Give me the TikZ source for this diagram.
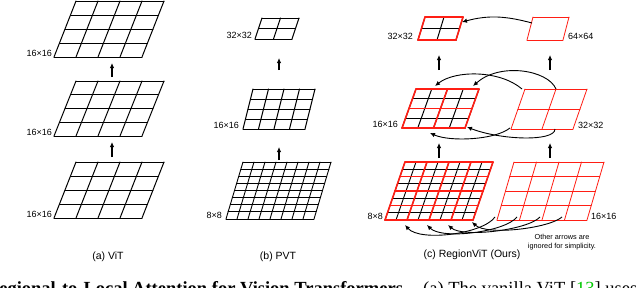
\documentclass[tikz,border=0pt]{standalone}
\usepackage{fontspec}
\setmainfont{Liberation Sans}
\newfontfamily\serifcap{Liberation Serif}
\usetikzlibrary{arrows.meta}
\definecolor{gred}{RGB}{255,30,20}
\definecolor{cgreen}{RGB}{0,200,0}
% #1 x0, #2 y0 (bottom, px down), #3 width, #4 height, #5 skew, #6 divisions, #7 style
\newcommand{\pgrid}[7]{%
  \foreach \i in {0,...,#6}{%
    \draw[#7] ({#1+#5*\i/#6},{-#2+#4*\i/#6}) -- ++(#3,0);
    \draw[#7] ({#1+#3*\i/#6},{-#2}) -- ++(#5,#4);
  }%
}
\begin{document}
\begin{tikzpicture}[x=1pt,y=1pt,
  blk/.style={line width=1pt, black, line cap=round},
  blkthin/.style={line width=0.9pt, black, line cap=round},
  redthick/.style={line width=1.6pt, gred, line cap=round},
  redthin/.style={line width=0.8pt, gred, line cap=round},
  uparrow/.style={-{Latex[length=5pt,width=4.5pt]}, line width=1.1pt},
  curv/.style={-{Latex[length=5pt,width=4.5pt]}, line width=0.9pt},
  lab/.style={font=\fontsize{9}{10}\selectfont, inner sep=0pt},
  subcap/.style={font=\fontsize{10.5}{12}\selectfont, inner sep=0pt},
  notetext/.style={font=\fontsize{7.3}{9.5}\selectfont, inner sep=0pt, align=center},
  bigcap/.style={font=\serifcap\fontsize{18.5}{20}\selectfont, inner sep=0pt},
]
\useasboundingbox (0,0) rectangle (640,-287);
\clip (0,0) rectangle (640,-287);
\fill[white] (0,0) rectangle (640,-287);

% ---------- (a) ViT ----------
\pgrid{54}{57}{88}{56}{22}{4}{blk}
\pgrid{54}{136}{88}{55}{22}{4}{blk}
\pgrid{54}{218}{88}{56}{22}{4}{blk}
\node[lab, anchor=east] (la1) at (52,-53) {16×16};
\node[lab, anchor=east] (la2) at (52,-132) {16×16};
\node[lab, anchor=east] (la3) at (52,-214) {16×16};
\coordinate (a1s) at (112,-77); \coordinate (a1e) at (112,-63);
\coordinate (a2s) at (112,-157); \coordinate (a2e) at (112,-142);
\draw[uparrow] (a1s) -- (a1e);
\draw[uparrow] (a2s) -- (a2e);
\node[subcap] (capa) at (108,-257) {(a) ViT};

% ---------- (b) PVT ----------
\pgrid{255}{39}{37}{21}{7}{2}{blk}
\pgrid{243}{129}{62}{40}{10}{4}{blk}
\pgrid{226}{219}{88}{57}{17}{8}{blkthin}
\node[lab, anchor=east] (lb1) at (252,-35) {32×32};
\node[lab, anchor=east] (lb2) at (239,-125) {16×16};
\node[lab, anchor=east] (lb3) at (222,-215) {8×8};
\coordinate (b1s) at (279,-70); \coordinate (b1e) at (279,-58);
\coordinate (b2s) at (279,-160); \coordinate (b2e) at (279,-147);
\draw[uparrow] (b1s) -- (b1e);
\draw[uparrow] (b2s) -- (b2e);
\node[subcap] (capb) at (278,-257) {(b) PVT};

% ---------- (c) RegionViT ----------
% top row
\pgrid{418}{40}{38}{23}{7}{2}{blk}
\pgrid{418}{40}{38}{23}{7}{1}{redthick}
\pgrid{527}{40}{36}{23}{6}{1}{redthin}
\node[lab, anchor=east] (lc1) at (413,-36) {32×32};
\node[lab, anchor=west] (lc2) at (568,-36) {64×64};
\coordinate (t0s) at (532,-23); \coordinate (t0e) at (462,-22);
\draw[curv] (t0s) to[out=165,in=15] (t0e);
% middle row
\pgrid{402}{128}{63}{39}{14}{4}{blk}
\pgrid{402}{128}{63}{39}{14}{2}{redthick}
\pgrid{511}{129}{62}{40}{14}{2}{redthin}
\node[lab, anchor=east] (lc3) at (398,-124) {16×16};
\node[lab, anchor=west] (lc4) at (578,-125) {32×32};
\coordinate (m1s) at (439,-70); \coordinate (m1e) at (439,-55);
\coordinate (m2s) at (550,-70); \coordinate (m2e) at (550,-55);
\draw[uparrow] (m1s) -- (m1e);
\draw[uparrow] (m2s) -- (m2e);
\coordinate (c1s) at (522,-89); \coordinate (c1e) at (435,-86);
\coordinate (c2s) at (556,-89); \coordinate (c2e) at (473,-86);
\draw[curv] (c1s) .. controls (500,-70) and (455,-70) .. (c1e);
\draw[curv] (c2s) .. controls (548,-70) and (500,-62) .. (c2e);
\coordinate (c3s) at (510,-128); \coordinate (c3e) at (430,-133);
\coordinate (c4s) at (555,-129); \coordinate (c4e) at (467,-127);
\draw[curv] (c3s) .. controls (495,-140) and (450,-142) .. (c3e);
\draw[curv] (c4s) .. controls (555,-142) and (500,-140) .. (c4e);
% bottom row
\pgrid{385}{220}{88}{58}{20}{8}{blkthin}
\pgrid{385}{220}{88}{58}{20}{4}{redthick}
\pgrid{497}{220}{90}{58}{17}{4}{redthin}
\node[lab, anchor=east] (lc5) at (383,-216) {8×8};
\node[lab, anchor=west] (lc6) at (591,-216) {16×16};
\coordinate (n1s) at (439,-158); \coordinate (n1e) at (439,-143);
\coordinate (n2s) at (550,-158); \coordinate (n2e) at (550,-143);
\draw[uparrow] (n1s) -- (n1e);
\draw[uparrow] (n2s) -- (n2e);
\foreach \k/\sx/\tx/\ty/\d in {1/495/405/225/6, 2/517/427/225/4, 3/540/448/225/2, 4/562/472/222/0}{
  \coordinate (bs\k) at (\sx,-217);
  \coordinate (be\k) at (\tx,-\ty);
  \draw[curv] (bs\k) .. controls (\sx-12,-228-\d) and (\tx+15,-236-\d) .. (be\k);
}
\node[notetext] (other) at (562,-242) {Other arrows are\\ignored for simplicity.};
\node[subcap] (capc) at (472,-255) {(c) RegionViT (Ours)};

% ---------- figure caption (cut off) ----------
\node[bigcap, anchor=base east] (fc1) at (128,-294) {\bfseries Regional-to-Local};
\node[bigcap, anchor=base west] (fc2) at (132,-294) {\bfseries Attention for Vision Transformers.};
\node[bigcap, anchor=base west] (fc3) at (423,-294) {(a) The vanilla ViT [\textcolor{cgreen}{13}] uses};
\end{tikzpicture}
\end{document}
